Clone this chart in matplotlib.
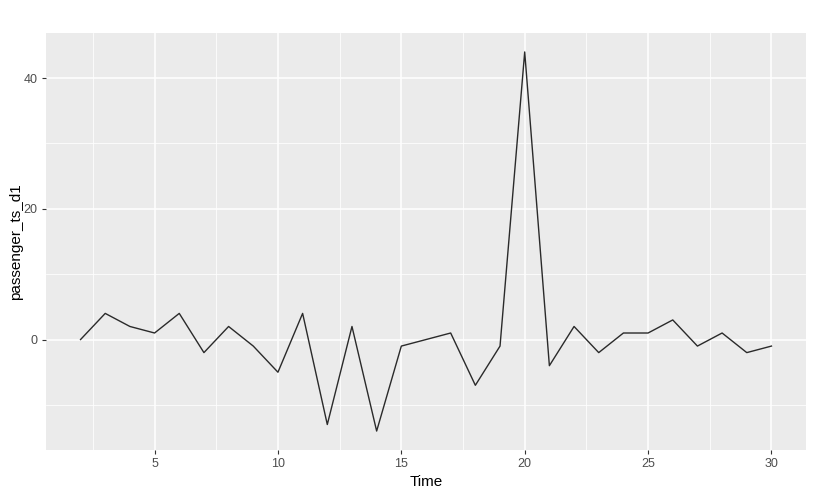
import matplotlib
matplotlib.use("Agg")
import matplotlib.pyplot as plt
from matplotlib.ticker import MultipleLocator

plt.rcParams['font.family'] = ['Liberation Sans', 'DejaVu Sans']

time = list(range(2, 31))
values = [0, 4, 2, 1, 4, -2, 2, -1, -5, 4, -13, 2, -14, -1, 0, 1, -7, -1, 44, -4,
          2, -2, 1, 1, 3, -1, 1, -2, -1]
x_label = "Time"
y_label = "passenger_ts_d1"

fig = plt.figure(figsize=(8.13, 4.97), dpi=100)
ax = fig.add_axes([46/813, 1-450/497, (806-46)/813, (450-33)/497])
ax.set_facecolor('#EBEBEB')
ax.plot(time, values, color='#2a2a2a', linewidth=1.0, zorder=3)

ax.set_xlim(0.6, 31.4)
ax.set_ylim(-16.9, 46.9)
ax.xaxis.set_major_locator(MultipleLocator(5))
ax.xaxis.set_minor_locator(MultipleLocator(2.5))
ax.yaxis.set_major_locator(MultipleLocator(20))
ax.yaxis.set_minor_locator(MultipleLocator(10))
ax.grid(which='major', color='white', linewidth=1.1, zorder=0)
ax.grid(which='minor', color='white', linewidth=0.55, zorder=0)
ax.set_axisbelow(True)
for s in ax.spines.values():
    s.set_visible(False)
ax.tick_params(which='major', length=3, color='#333333', width=0.8,
               labelcolor='#4D4D4D', labelsize=9, pad=3)
ax.tick_params(which='minor', length=0)
ax.set_xlabel(x_label, fontsize=11, color='black', labelpad=3)
ax.set_ylabel(y_label, fontsize=11, color='black', labelpad=0.5)

fig.savefig('out.png', dpi=100, facecolor='white')
